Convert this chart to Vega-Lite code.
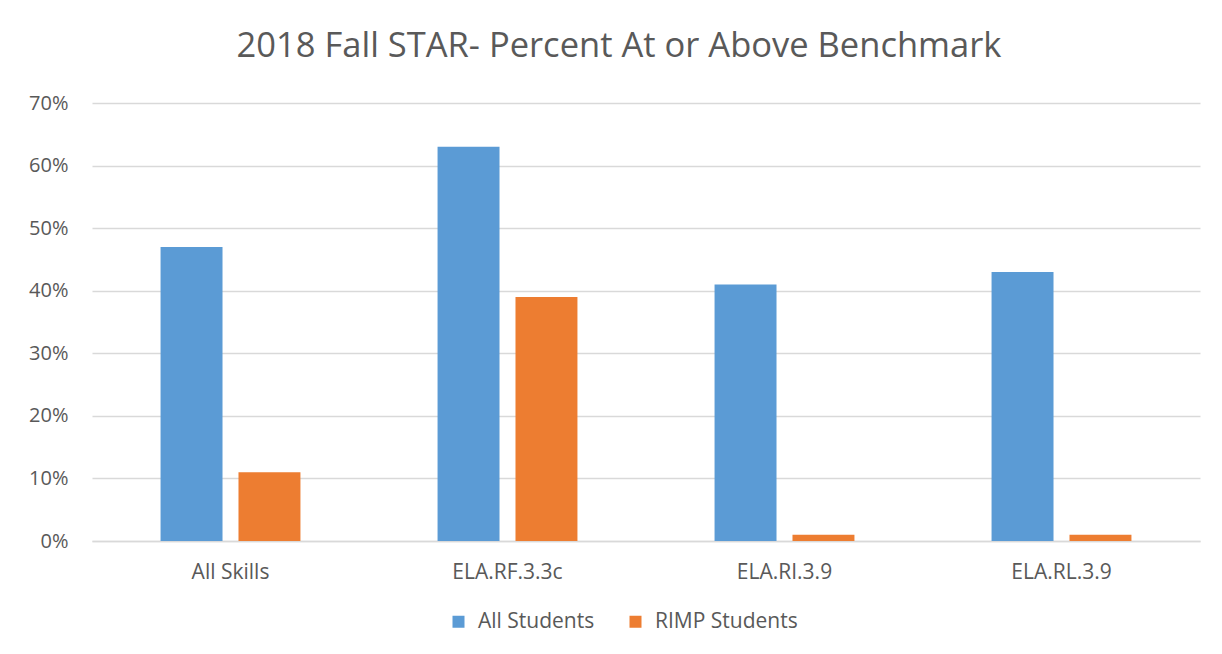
{
  "$schema": "https://vega.github.io/schema/vega-lite/v6.json",
  "autosize": "none",
  "width": 1108,
  "height": 438,
  "padding": {"left": 92, "top": 103, "right": 22, "bottom": 113},
  "background": "white",
  "title": {
    "text": "2018 Fall STAR- Percent At or Above Benchmark",
    "font": "Open Sans",
    "fontSize": 34.5,
    "fontWeight": "normal",
    "color": "#595959",
    "anchor": "middle",
    "dx": -27,
    "offset": 29
  },
  "data": {
    "values": [
      {"skill": "All Skills", "group": "All Students", "pct": 0.47},
      {"skill": "All Skills", "group": "RIMP Students", "pct": 0.11},
      {"skill": "ELA.RF.3.3c", "group": "All Students", "pct": 0.63},
      {"skill": "ELA.RF.3.3c", "group": "RIMP Students", "pct": 0.39},
      {"skill": "ELA.RI.3.9", "group": "All Students", "pct": 0.41},
      {"skill": "ELA.RI.3.9", "group": "RIMP Students", "pct": 0.01},
      {"skill": "ELA.RL.3.9", "group": "All Students", "pct": 0.43},
      {"skill": "ELA.RL.3.9", "group": "RIMP Students", "pct": 0.01}
    ]
  },
  "mark": {"type": "bar"},
  "encoding": {
    "x": {
      "field": "skill",
      "type": "nominal",
      "sort": null,
      "title": null,
      "scale": {"paddingInner": 0.495, "paddingOuter": 0.2475},
      "axis": {
        "labelAngle": 0,
        "labelFont": "Open Sans",
        "labelFontSize": 21,
        "labelColor": "#595959",
        "labelPadding": 20,
        "ticks": false,
        "domainColor": "#d9d9d9",
        "domainWidth": 1.5
      }
    },
    "xOffset": {
      "field": "group",
      "type": "nominal",
      "scale": {"paddingInner": 0.205, "paddingOuter": 0}
    },
    "y": {
      "field": "pct",
      "type": "quantitative",
      "title": null,
      "scale": {"domain": [0, 0.7]},
      "axis": {
        "format": ".0%",
        "values": [0, 0.1, 0.2, 0.3, 0.4, 0.5, 0.6, 0.7],
        "labelFont": "Open Sans",
        "labelFontSize": 20,
        "labelColor": "#595959",
        "labelPadding": 24,
        "ticks": false,
        "domain": false,
        "gridColor": "#d9d9d9",
        "gridWidth": 1.5
      }
    },
    "color": {
      "field": "group",
      "type": "nominal",
      "title": null,
      "scale": {"domain": ["All Students", "RIMP Students"], "range": ["#5b9bd5", "#ed7d31"]},
      "legend": {
        "orient": "none",
        "legendX": 356,
        "legendY": 508,
        "direction": "horizontal",
        "symbolType": "square",
        "symbolSize": 144,
        "symbolStrokeWidth": 0,
        "labelFont": "Open Sans",
        "labelFontSize": 21,
        "labelColor": "#595959",
        "columnPadding": 30,
        "labelOffset": 9
      }
    }
  },
  "config": {"view": {"stroke": null}}
}
